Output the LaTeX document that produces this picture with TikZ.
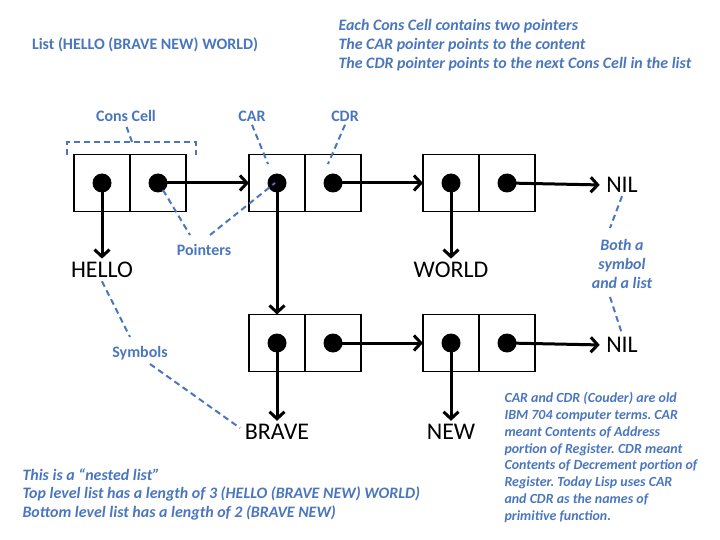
\documentclass[tikz,border=0pt]{standalone}
\usepackage{fontspec}
\setmainfont{Carlito}
\usetikzlibrary{positioning,arrows.meta}
\definecolor{noteblue}{HTML}{4A76BE}
\frenchspacing

\begin{document}
\begin{tikzpicture}[x=1bp,y=-1bp,
                half/.style={draw,line width=1.9bp,minimum width=56bp,minimum height=57bp,inner sep=0pt,outer sep=0pt},
                dot/.style={circle,fill=black,minimum size=19bp,inner sep=0pt},
                ptr/.style={line width=3bp,-{Straight Barb[length=7bp,width=15bp]}},
                sym/.style={font=\fontsize{24}{28}\selectfont},
                lbl/.style={text=noteblue,font=\bfseries\fontsize{16}{19}\selectfont},
                note/.style={text=noteblue,font=\bfseries\itshape\fontsize{16}{18.8}\selectfont,align=left},
                hint/.style={noteblue,line width=2bp,dash pattern=on 6bp off 4bp}
            ]
                \useasboundingbox (0,0) rectangle (720,540);

                % cons cells
                \node[half] (car1) at (102,183) {};
                \node[half,right=0pt of car1] (cdr1) {};
                \node[half] (car2) at (277,183) {};
                \node[half,right=0pt of car2] (cdr2) {};
                \node[half] (car3) at (451,183) {};
                \node[half,right=0pt of car3] (cdr3) {};
                \node[half] (car4) at (277,343) {};
                \node[half,right=0pt of car4] (cdr4) {};
                \node[half] (car5) at (451,343) {};
                \node[half,right=0pt of car5] (cdr5) {};

                % symbols
                \node[sym] (hello) at (102,270) {HELLO};
                \node[sym] (world) at (451,270) {WORLD};
                \node[sym] (brave) at (277,432) {BRAVE};
                \node[sym] (new)   at (451,432) {NEW};
                \node[sym] (nil1)  at (622,185) {NIL};
                \node[sym] (nil2)  at (622,345) {NIL};

                % pointers
                \draw[ptr] (car1.center) -- (hello.north);
                \draw[ptr] (cdr1.center) -- (car2.west);
                \draw[ptr] (car2.center) -- (car4.north);
                \draw[ptr] (cdr2.center) -- (car3.west);
                \draw[ptr] (car3.center) -- (world.north);
                \draw[ptr,shorten >=3bp] (cdr3.center) -- (nil1.west);
                \draw[ptr] (car4.center) -- (brave.north);
                \draw[ptr] (cdr4.center) -- (car5.west);
                \draw[ptr] (car5.center) -- (new.north);
                \draw[ptr,shorten >=3bp] (cdr5.center) -- (nil2.west);

                \foreach \c in {car1,cdr1,car2,cdr2,car3,cdr3,car4,cdr4,car5,cdr5}
                    \node[dot] (d\c) at (\c) {};

                % labels
                \node[lbl] (title) at (145,45) {List (HELLO (BRAVE NEW) WORLD)};
                \node[lbl] (conslbl) at (126,116) {Cons Cell};
                \node[lbl] (carlbl) at (252,116) {CAR};
                \node[lbl] (cdrlbl) at (345,116) {CDR};
                \node[lbl] (ptrlbl) at (204,250) {Pointers};
                \node[lbl] (symlbl) at (140,353) {Symbols};
                \node[note,align=center] (bothlbl) at (622,264) {Both a\\symbol\\and a list};

                \node[note,anchor=north west] (facts) at (335,16) {Each Cons Cell contains two pointers\\
                    The CAR pointer points to the content\\
                    The CDR pointer points to the next Cons Cell in the list};
                \node[note,anchor=north west] (nested) at (19,465) {This is a “nested list”\\
                    Top level list has a length of 3 (HELLO (BRAVE NEW) WORLD)\\
                    Bottom level list has a length of 2 (BRAVE NEW)};
                \node[note,anchor=north west,font=\bfseries\itshape\fontsize{14}{16.8}\selectfont] (history) at (501,389) {CAR and CDR (Couder) are old\\
                    IBM 704 computer terms. CAR\\
                    meant Contents of Address\\
                    portion of Register. CDR meant\\
                    Contents of Decrement portion of\\
                    Register. Today Lisp uses CAR\\
                    and CDR as the names of\\
                    primitive function.};

                % dashed hints
                \coordinate (brl) at (67,155);
                \coordinate (brr) at (196,155);
                \coordinate (brm) at (132,142);
                \coordinate (carend) at (268,164);
                \coordinate (cdrend) at (328,164);
                \coordinate (ptra) at (163,190);
                \coordinate (ptrb) at (190,235);
                \coordinate (ptrc) at (210,235);
                \coordinate (ptrd) at (275,183);
                \coordinate (syma) at (130,337);
                \coordinate (symb) at (150,364);
                \coordinate (symc) at (240,428);
                \coordinate (botha) at (610,228);
                \coordinate (bothb) at (610,297);

                \draw[hint] (brl) -- (brl |- brm) -- (brr |- brm) -- (brr);
                \draw[hint] (brm) -- (conslbl.south);
                \draw[hint] (carlbl.south) -- (carend);
                \draw[hint] (cdrlbl.south) -- (cdrend);
                \draw[hint] (ptra) -- (ptrb);
                \draw[hint] (ptrc) -- (ptrd);
                \draw[hint] (hello.south) -- (syma);
                \draw[hint] (symb) -- (symc);
                \draw[hint] (nil1.south) -- (botha);
                \draw[hint] (bothb) -- (nil2.north);
            \end{tikzpicture}
\end{document}
